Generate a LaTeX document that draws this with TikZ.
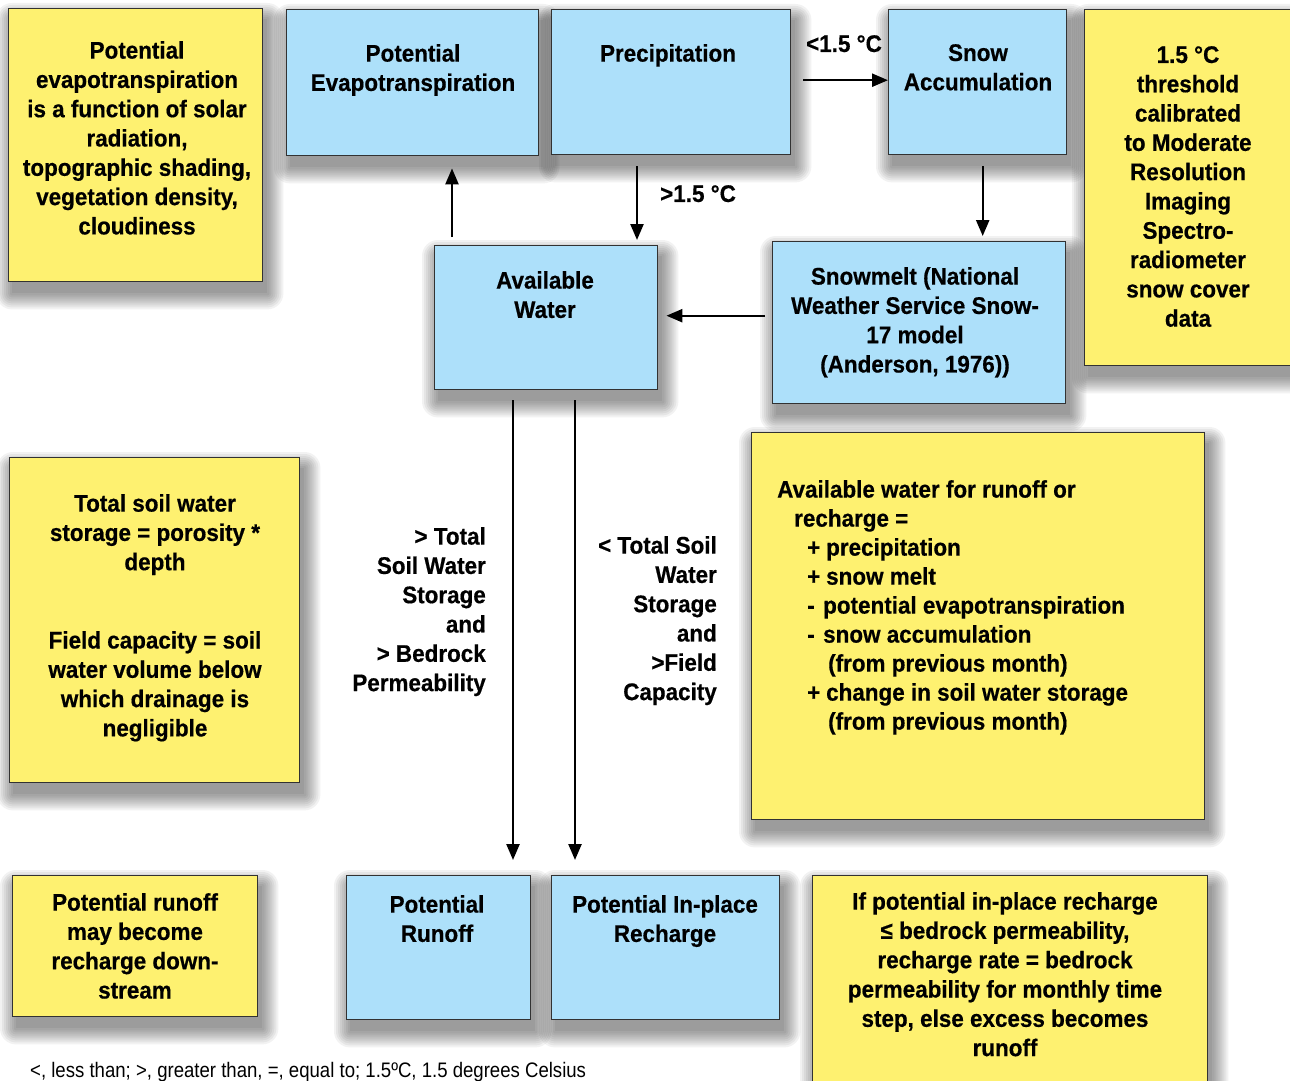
\documentclass[tikz,border=0pt]{standalone}
\usepackage{fontspec}
\newfontfamily\bfam[FakeStretch=0.935, BoldFeatures={FakeBold=0.5}]{Liberation Sans}
\newfontfamily\rfam[FakeStretch=0.885]{Liberation Sans}
\usetikzlibrary{arrows.meta}
\definecolor{boxblue}{RGB}{173,224,250}
\definecolor{boxyellow}{RGB}{254,241,112}
\definecolor{edge}{RGB}{50,50,50}
\pgfdeclarelayer{bg}
\pgfsetlayers{bg,main}
\tikzset{
  box/.style={draw=edge, line width=1.4pt, inner sep=0pt, anchor=north west},
  bluebox/.style={box, fill=boxblue},
  yelbox/.style={box, fill=boxyellow},
  shadowlayer/.style={fill=black, opacity=0.05},
  txt/.style={font=\bfam\bfseries\fontsize{24}{29.3}\selectfont, align=center, inner sep=0pt, anchor=north},
  arr/.style={line width=2.4pt, -{Triangle[length=16pt,width=13pt]}},
}
\newcommand\softshadow[1]{%
  \begin{pgfonlayer}{bg}
  \foreach \e in {16,14,...,0}{%
    \fill[shadowlayer, rounded corners=\e pt]
      ([shift={(4-\e,11-\e)}]#1.north west) rectangle ([shift={(4+\e,11+\e)}]#1.south east);
  }
  \end{pgfonlayer}}
\begin{document}
\begin{tikzpicture}[x=1pt,y=-1pt]
\useasboundingbox (0,0) rectangle (1290,1081);
\begin{pgfonlayer}{bg}
\fill[white] (0,0) rectangle (1290,1081);
\end{pgfonlayer}

% boxes
\node[yelbox, minimum width=254pt, minimum height=273pt] (petnote) at (8,8) {};
\node[bluebox, minimum width=252pt, minimum height=146pt] (pet) at (286,9) {};
\node[bluebox, minimum width=239pt, minimum height=145pt] (precip) at (551,9) {};
\node[bluebox, minimum width=178pt, minimum height=145pt] (snow) at (888,9) {};
\node[yelbox, minimum width=220pt, minimum height=356pt] (modis) at (1084,9) {};
\node[bluebox, minimum width=223pt, minimum height=144pt] (aw) at (434,245) {};
\node[bluebox, minimum width=293pt, minimum height=162pt] (melt) at (772,241) {};
\node[yelbox, minimum width=453pt, minimum height=387pt] (eq) at (751,432) {};
\node[yelbox, minimum width=290pt, minimum height=325pt] (soil) at (9,457) {};
\node[yelbox, minimum width=245pt, minimum height=141pt] (ronote) at (12,875) {};
\node[bluebox, minimum width=184pt, minimum height=144pt] (runoff) at (346,875) {};
\node[bluebox, minimum width=228pt, minimum height=144pt] (recharge) at (551,875) {};
\node[yelbox, minimum width=395pt, minimum height=220pt] (rule) at (812,875) {};
\softshadow{petnote}\softshadow{pet}\softshadow{precip}\softshadow{snow}
\softshadow{modis}\softshadow{aw}\softshadow{melt}\softshadow{eq}\softshadow{soil}
\softshadow{ronote}\softshadow{runoff}\softshadow{recharge}\softshadow{rule}

% texts
\node[txt] (petnoteT) at (137,41) {Potential\\evapotranspiration\\is a function of solar\\radiation,\\topographic shading,\\vegetation density,\\cloudiness};
\node[txt] (petT) at (413,44) {Potential\\Evapotranspiration};
\node[txt] (precipT) at (668,44) {Precipitation};
\node[txt] (snowT) at (978,44) {Snow\\Accumulation};
\node[txt] (modisT) at (1188,46) {1.5 °C\\threshold\\calibrated\\to Moderate\\Resolution\\Imaging\\Spectro-\\radiometer\\snow cover\\data};
\node[txt] (awT) at (545,271) {Available\\Water};
\node[txt] (meltT) at (915,267) {Snowmelt (National\\Weather Service Snow-\\17 model\\(Anderson, 1976))};
\node[txt, align=left, anchor=north west, font=\bfam\bfseries\fontsize{24}{29}\selectfont] (eqT) at (777,480) {Available water for runoff or\\
\hspace*{17pt}recharge =\\
\hspace*{30pt}\makebox[19pt][l]{+}precipitation\\
\hspace*{30pt}\makebox[19pt][l]{+}snow melt\\
\hspace*{30pt}\makebox[16pt][l]{-}potential evapotranspiration\\
\hspace*{30pt}\makebox[16pt][l]{-}snow accumulation\\
\hspace*{51pt}(from previous month)\\
\hspace*{30pt}\makebox[19pt][l]{+}change in soil water storage\\
\hspace*{51pt}(from previous month)};
\node[txt] (soilT) at (155,494) {Total soil water\\storage = porosity *\\depth\\[49pt]Field capacity = soil\\water volume below\\which drainage is\\negligible};
\node[txt] (ronoteT) at (135,893) {Potential runoff\\may become\\recharge down-\\stream};
\node[txt] (runoffT) at (437,895) {Potential\\Runoff};
\node[txt] (rechargeT) at (665,895) {Potential In-place\\Recharge};
\node[txt] (ruleT) at (1005,892) {If potential in-place recharge\\≤ bedrock permeability,\\recharge rate = bedrock\\permeability for monthly time\\step, else excess becomes\\runoff};
\node[txt, align=right, anchor=north east] (lblA) at (486,527) {> Total\\Soil Water\\Storage\\and\\> Bedrock\\Permeability};
\node[txt, align=right, anchor=north east] (lblB) at (717,536) {< Total Soil\\Water\\Storage\\and\\>Field\\Capacity};
\node[txt] (lblC) at (844,35) {<1.5 °C};
\node[txt, anchor=north west] (lblD) at (660,185) {>1.5 °C};
\node[font=\rfam\fontsize{21}{25}\selectfont, anchor=base west, inner sep=0pt] (note) at (30,1077) {<, less than; >, greater than, =, equal to; 1.5ºC, 1.5 degrees Celsius};

% connectors
\path (aw.north west) ++(18,0) coordinate (c1);
\draw[arr, shorten <=8pt, shorten >=12pt] (c1) -- (c1 |- pet.south);
\path (aw.north west) ++(203,0) coordinate (c2);
\draw[arr, shorten <=11pt, shorten >=5pt] (c2 |- precip.south) -- (c2);
\path (precip.east) ++(0,-2) coordinate (c3);
\draw[arr, shorten <=12pt] (c3) -- (c3 -| snow.west);
\path (snow.south) ++(5,0) coordinate (c4);
\draw[arr, shorten <=11pt, shorten >=5pt] (c4) -- (c4 |- melt.north);
\path (aw.east) ++(0,-2) coordinate (c5);
\draw[arr, shorten <=7pt, shorten >=8pt] (c5 -| melt.west) -- (c5);
\path (aw.south west) ++(79,0) coordinate (c6);
\draw[arr, shorten <=10pt, shorten >=15pt] (c6) -- (c6 |- runoff.north);
\path (aw.south west) ++(141,0) coordinate (c7);
\draw[arr, shorten <=10pt, shorten >=15pt] (c7) -- (c7 |- recharge.north);
\end{tikzpicture}
\end{document}
